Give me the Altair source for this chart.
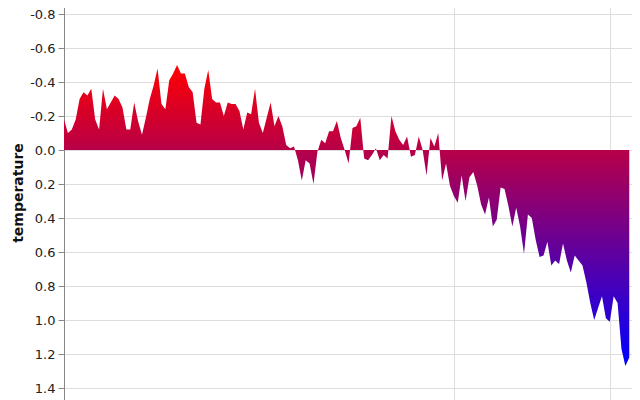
import altair as alt
import pandas as pd

first_year = 1880
temps_1880_1953 = [
    -0.18, -0.10, -0.12, -0.18, -0.30, -0.34, -0.32, -0.36, -0.18, -0.12,
    -0.36, -0.24, -0.28, -0.32, -0.30, -0.25, -0.12, -0.12, -0.28, -0.17,
    -0.09, -0.19, -0.30, -0.38, -0.48, -0.27, -0.24, -0.41, -0.45, -0.50,
    -0.45, -0.45, -0.37, -0.34, -0.16, -0.15, -0.36, -0.47, -0.30, -0.28,
    -0.28, -0.20, -0.28, -0.27, -0.27, -0.23, -0.12, -0.22, -0.21, -0.36,
    -0.16, -0.10, -0.19, -0.28, -0.14, -0.20, -0.14, -0.03, -0.01, -0.02,
    0.06, 0.18, 0.06, 0.08, 0.20, 0.01, -0.06, -0.04, -0.11, -0.11,
    -0.17, -0.07, 0.00, 0.08,
]
temps_1954_1976 = [
    -0.13, -0.14, -0.19, 0.05, 0.06, 0.03, -0.01, 0.06, 0.03, 0.05,
    -0.20, -0.11, -0.06, -0.03, -0.08, 0.04, 0.03, -0.08, 0.00, 0.15,
    -0.07, -0.02, -0.10,
]
temps_1977_2025 = [
    0.18, 0.08, 0.21, 0.27, 0.31, 0.15, 0.30, 0.16, 0.13, 0.21,
    0.32, 0.38, 0.28, 0.45, 0.41, 0.22, 0.23, 0.33, 0.45, 0.34,
    0.45, 0.61, 0.38, 0.40, 0.53, 0.63, 0.62, 0.54, 0.68, 0.65,
    0.67, 0.55, 0.65, 0.72, 0.62, 0.65, 0.68, 0.78, 0.90, 1.00,
    0.93, 0.86, 0.99, 1.01, 0.86, 0.90, 1.17, 1.27, 1.22,
]
temperature = temps_1880_1953 + temps_1954_1976 + temps_1977_2025
years = [first_year + i for i in range(len(temperature))]

y_ticks = [-1.0, -0.8, -0.6, -0.4, -0.2, 0.0, 0.2, 0.4, 0.6, 0.8, 1.0, 1.2, 1.4]
x_grid_years = [1980, 2020]

df = pd.DataFrame({"year": years, "temperature": temperature})

gradient = alt.Gradient(
    gradient="linear",
    stops=[alt.GradientStop(color="#ff0000", offset=0),
           alt.GradientStop(color="#0000ff", offset=1)],
    x1=0, x2=0, y1=0, y2=1,
)

chart = alt.Chart(df).mark_area(color=gradient).encode(
    x=alt.X("year:Q",
            scale=alt.Scale(domain=[1880, 2025.7], nice=False, zero=False),
            axis=alt.Axis(values=x_grid_years, format="d", title="year")),
    y=alt.Y("temperature:Q",
            scale=alt.Scale(domain=[-1.0, 1.5], reverse=True, nice=False, zero=False),
            axis=alt.Axis(values=y_ticks, format=".1f",
                          labelExpr="replace(datum.label, '\u2212', '-')",
                          title="temperature")),
).properties(
    width=568,
    height=425,
    autosize=alt.AutoSizeParams(type="none"),
    padding={"left": 56, "top": -28, "right": 0, "bottom": 0},
).configure_axis(
    labelFontSize=13,
    titleFontSize=14,
    labelFont="DejaVu Sans",
    titleFont="DejaVu Sans",
    tickSize=6,
    labelPadding=3,
    domainColor="#888",
    tickColor="#888",
    gridColor="#ddd",
    labelColor="#222",
    titleColor="#111",
)

chart.save("out.html", embed_options={"renderer": "svg", "actions": False})
